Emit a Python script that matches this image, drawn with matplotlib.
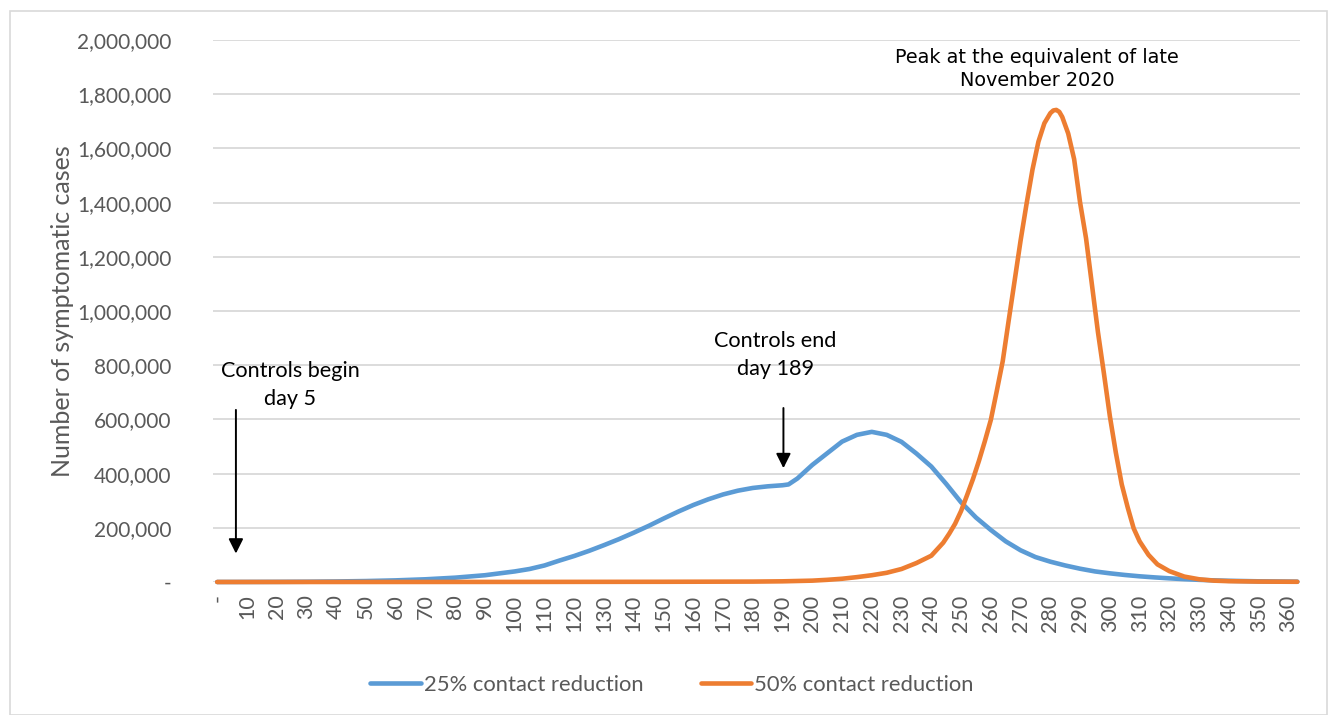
import matplotlib
matplotlib.use("Agg")
import matplotlib.pyplot as plt
from matplotlib.ticker import FuncFormatter, FixedLocator
from matplotlib.patches import Rectangle

# day numbers and symptomatic cases
days_25 = [0, 10, 20, 30, 40, 50, 60, 70, 80, 90, 100, 105, 110, 115, 120,
           125, 130, 135, 140, 145, 150, 155, 160, 165, 170, 175, 180, 185,
           190, 192, 195, 200, 205, 210, 215, 220, 225, 230, 235, 240, 245,
           250, 255, 260, 265, 270, 275, 280, 285, 290, 295, 300, 305, 310,
           315, 320, 325, 330, 335, 340, 345, 350, 355, 360, 363]
cases_25 = [50, 200, 500, 1000, 2000, 3500, 6000, 10000, 16000, 25000, 39000,
            48000, 61000, 79000, 96000, 115000, 136000, 158000, 182000, 207000,
            234000, 260000, 284000, 305000, 323000, 337000, 347000, 353000,
            357000, 360000, 382000, 432000, 475000, 518000, 543000, 554000,
            543000, 517000, 474000, 426000, 362000, 294000, 238000, 192000,
            150000, 117000, 92000, 75000, 61000, 49000, 39000, 32000, 26000,
            21000, 17000, 13500, 10500, 8000, 6000, 4500, 3500, 2500, 2000,
            1500, 1200]

days_50 = [0, 50, 100, 150, 180, 190, 200, 205, 210, 215, 220, 225, 230, 235,
           240, 244, 246, 248, 250, 252, 254, 256, 258, 260, 262, 264, 266,
           268, 270, 272, 274, 276, 278, 280, 281, 282, 283, 284, 286, 288,
           290, 292, 294, 296, 298, 300, 302, 304, 306, 308, 310, 313, 316,
           320, 325, 330, 335, 340, 350, 363]
cases_50 = [0, 100, 300, 800, 1500, 2500, 5000, 8000, 12000, 18000, 25000,
            34000, 48000, 70000, 97000, 145000, 178000, 215000, 262000,
            320000, 380000, 447000, 520000, 598000, 705000, 815000, 965000,
            1112000, 1260000, 1395000, 1522000, 1625000, 1693000, 1730000,
            1740000, 1742000, 1735000, 1716000, 1655000, 1560000, 1400000,
            1268000, 1095000, 922000, 770000, 612000, 478000, 360000, 275000,
            198000, 150000, 100000, 65000, 40000, 20000, 10000, 5000, 3000,
            1500, 800]

x_ticks = list(range(0, 361, 10))
x_labels = ["-"] + [str(t) for t in x_ticks[1:]]
y_ticks = list(range(0, 2000001, 200000))

blue = "#5B9BD5"
orange = "#ED7D31"
grey = "#595959"

plt.rcParams["font.family"] = ["Lato", "DejaVu Sans"]

fig = plt.figure(figsize=(13.3, 7.15), dpi=100)
ax = fig.add_axes([213 / 1330, 1 - 582 / 715, 1087 / 1330, 542 / 715])

fig.patches.append(Rectangle((10 / 1330, 0.0), 1317 / 1330, 1 - 11 / 715,
                             transform=fig.transFigure, fill=False,
                             edgecolor="#D9D9D9", lw=1.2))

ax.plot(days_25, cases_25, color=blue, lw=3.3, label="25% contact reduction",
        solid_capstyle="round", solid_joinstyle="round", clip_on=False, zorder=3)
ax.plot(days_50, cases_50, color=orange, lw=3.3, label="50% contact reduction",
        solid_capstyle="round", solid_joinstyle="round", clip_on=False, zorder=4)

ax.set_xlim(-1.4, 363.9)
ax.set_ylim(0, 2000000)
ax.xaxis.set_major_locator(FixedLocator(x_ticks))
ax.set_xticklabels(x_labels, rotation=90, fontsize=15.5, color=grey)
ax.set_yticks(y_ticks)
ax.yaxis.set_major_formatter(FuncFormatter(lambda v, p: "-" if v == 0 else f"{v:,.0f}"))
ax.tick_params(axis="y", labelsize=15, labelcolor=grey, length=0, pad=30)
ax.tick_params(axis="x", length=0, pad=9)
for s in ax.spines.values():
    s.set_visible(False)
ax.grid(axis="y", color="#D9D9D9", lw=1.3)
ax.set_axisbelow(True)

ax.set_ylabel("Number of symptomatic cases", fontsize=18, color=grey)
ax.yaxis.set_label_coords(-0.128, 0.5)

arrow = dict(arrowstyle="-|>", color="black", lw=1.4, mutation_scale=22,
             shrinkA=0, shrinkB=0)
ax.annotate("", xy=(6.3, 105000), xytext=(6.3, 635000), arrowprops=arrow)
ax.annotate("", xy=(190.3, 420000), xytext=(190.3, 642000), arrowprops=arrow)

ax.text(24.5, 727000, "Controls begin\nday 5", ha="center", va="center",
        fontsize=15.6, linespacing=1.45)
ax.text(187.5, 838000, "Controls end\nday 189", ha="center", va="center",
        fontsize=15.6, linespacing=1.45)
ax.text(275.5, 1893000, "Peak at the equivalent of late\nNovember 2020",
        ha="center", va="center", fontsize=13.9, family="DejaVu Sans",
        linespacing=1.3)

fig.legend(loc="center", bbox_to_anchor=(672 / 1330, 1 - 685 / 715), ncol=2,
           frameon=False, fontsize=15.8, labelcolor=grey, handlelength=2.3,
           handletextpad=0.15, columnspacing=2.6)

fig.savefig("out.png", dpi=100)
